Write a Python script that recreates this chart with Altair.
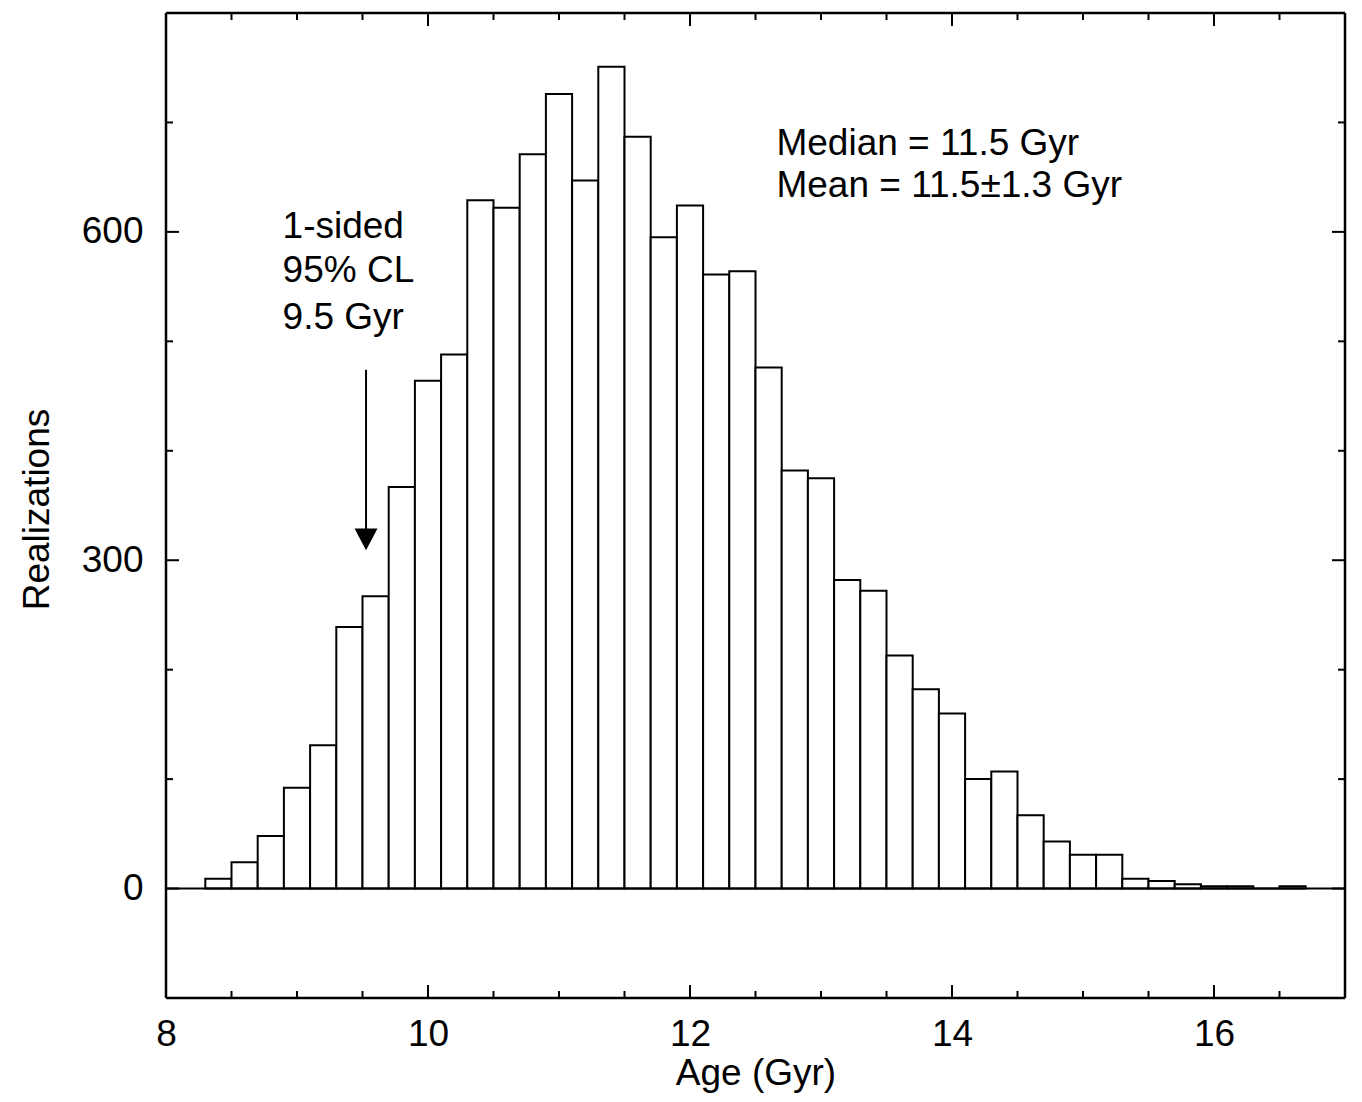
import altair as alt
import pandas as pd

# ---- data ----
bin_left = [8.3, 8.5, 8.7, 8.9, 9.1, 9.3, 9.5, 9.7, 9.9, 10.1,
            10.3, 10.5, 10.7, 10.9, 11.1, 11.3, 11.5, 11.7, 11.9, 12.1,
            12.3, 12.5, 12.7, 12.9, 13.1, 13.3, 13.5, 13.7, 13.9, 14.1,
            14.3, 14.5, 14.7, 14.9, 15.1, 15.3, 15.5, 15.7, 15.9, 16.1,
            16.3, 16.5]
bin_width = 0.2
counts = [9, 24, 48, 92, 131, 239, 267, 367, 464, 488,
          629, 622, 671, 726, 647, 751, 687, 595, 624, 561,
          564, 476, 382, 375, 282, 272, 213, 182, 160, 100,
          107, 67, 43, 31, 31, 9, 7, 4, 2, 2,
          0, 2]

x_major = [8, 10, 12, 14, 16]
x_ticks = [8 + 0.5 * i for i in range(19)]
y_major = [0, 300, 600]
y_ticks = [-100, 0, 100, 200, 300, 400, 500, 600, 700, 800]

note_left_x = [8.89, 8.89, 8.89]
note_left_y = [594, 554, 511]
note_left_text = ["1-sided", "95% CL", "9.5 Gyr"]
note_right_x = [12.66, 12.66]
note_right_y = [670, 632]
note_right_text = ["Median = 11.5 Gyr", "Mean = 11.5\u00b11.3 Gyr"]

arrow_x = [9.527]
arrow_top = [474]
arrow_head = [319]

X_DOMAIN = [8, 17]
Y_DOMAIN = [-100, 800]
W, H = 1179, 985
FONT = "Liberation Sans"
FS = 37

xs = alt.Scale(domain=X_DOMAIN, nice=False, zero=False)
ys = alt.Scale(domain=Y_DOMAIN, nice=False, zero=False)

bars_df = pd.DataFrame({
    "x0": bin_left,
    "x1": [b + bin_width for b in bin_left],
    "n": counts,
})

bars = alt.Chart(bars_df).mark_rect(
    fill="white", stroke="black", strokeWidth=2
).encode(
    x=alt.X("x0:Q", scale=xs,
            axis=alt.Axis(values=x_major, ticks=False, tickSize=0, domain=False, grid=False,
                          labelFontSize=FS, labelFont=FONT, labelColor="black",
                          labelPadding=18, labelFlush=False, format="d",
                          title="Age (Gyr)", titleFontSize=FS, titleFont=FONT,
                          titleFontWeight="normal", titleColor="black",
                          titleY=86, titleBaseline="alphabetic")),
    x2="x1:Q",
    y=alt.Y("n:Q", scale=ys,
            axis=alt.Axis(values=y_major, ticks=False, tickSize=0, domain=False, grid=False,
                          labelFontSize=FS, labelFont=FONT, labelColor="black",
                          labelPadding=23, labelFlush=False, format="d",
                          title="Realizations", titleFontSize=FS, titleFont=FONT,
                          titleFontWeight="normal", titleColor="black",
                          titleX=-129, titleY=496, titleBaseline="middle")),
    y2=alt.datum(0),
)

zero_line = alt.Chart(pd.DataFrame({"y": [0]})).mark_rule(
    color="black", strokeWidth=2
).encode(y=alt.Y("y:Q", scale=ys))

xt_df = pd.DataFrame({"x": x_ticks})
yt_df = pd.DataFrame({"y": y_ticks})
tick_style = dict(color="black", strokeWidth=2)


def xtick(major, top):
    d = xt_df[[(v % 2 == 0) == major for v in x_ticks]]
    ln = 13 if major else 7
    y0 = 0 if top else H
    y1 = ln if top else H - ln
    return alt.Chart(d).mark_rule(**tick_style).encode(
        x=alt.X("x:Q", scale=xs), y=alt.value(y0), y2=alt.value(y1))


def ytick(major, right):
    d = yt_df[[(v in y_major) == major for v in y_ticks]]
    ln = 13 if major else 7
    x0 = W if right else 0
    x1 = W - ln if right else ln
    return alt.Chart(d).mark_rule(**tick_style).encode(
        y=alt.Y("y:Q", scale=ys), x=alt.value(x0), x2=alt.value(x1))


ticks = [xtick(True, False), xtick(False, False), xtick(True, True), xtick(False, True),
         ytick(True, False), ytick(False, False), ytick(True, True), ytick(False, True)]

# plot frame
frame_df = pd.DataFrame({"k": [0]})
frame_style = dict(color="black", strokeWidth=2.5)
frame = [
    alt.Chart(frame_df).mark_rule(**frame_style).encode(
        x=alt.value(0), x2=alt.value(W), y=alt.value(0)),
    alt.Chart(frame_df).mark_rule(**frame_style).encode(
        x=alt.value(0), x2=alt.value(W), y=alt.value(H)),
    alt.Chart(frame_df).mark_rule(**frame_style).encode(
        x=alt.value(0), y=alt.value(0), y2=alt.value(H)),
    alt.Chart(frame_df).mark_rule(**frame_style).encode(
        x=alt.value(W), y=alt.value(0), y2=alt.value(H)),
]

arrow_df = pd.DataFrame({"x": arrow_x, "y0": arrow_top, "y1": arrow_head})
arrow_line = alt.Chart(arrow_df).mark_rule(color="black", strokeWidth=2).encode(
    x=alt.X("x:Q", scale=xs), y=alt.Y("y0:Q", scale=ys), y2="y1:Q")
arrow_tip = alt.Chart(arrow_df).mark_point(
    shape="M-1,-0.95L1,-0.95L0,0.95Z", filled=True, size=529,
    color="black", opacity=1, strokeWidth=0
).encode(x=alt.X("x:Q", scale=xs), y=alt.Y("y1:Q", scale=ys))

notes_df = pd.DataFrame({
    "x": note_left_x + note_right_x,
    "y": note_left_y + note_right_y,
    "t": note_left_text + note_right_text,
})
notes = alt.Chart(notes_df).mark_text(
    align="left", baseline="alphabetic", font=FONT, fontSize=FS, color="black"
).encode(x=alt.X("x:Q", scale=xs), y=alt.Y("y:Q", scale=ys), text="t:N")

chart = alt.layer(bars, zero_line, *ticks, *frame, arrow_line, arrow_tip, notes).properties(
    width=W, height=H,
    autosize=alt.AutoSizeParams(type="none"),
    padding={"left": 158, "top": 5, "right": 5, "bottom": 96},
).configure_view(
    stroke="black", strokeWidth=2.5
).configure(background="white")

chart.save("out.html", embed_options={"renderer": "svg", "actions": False})
